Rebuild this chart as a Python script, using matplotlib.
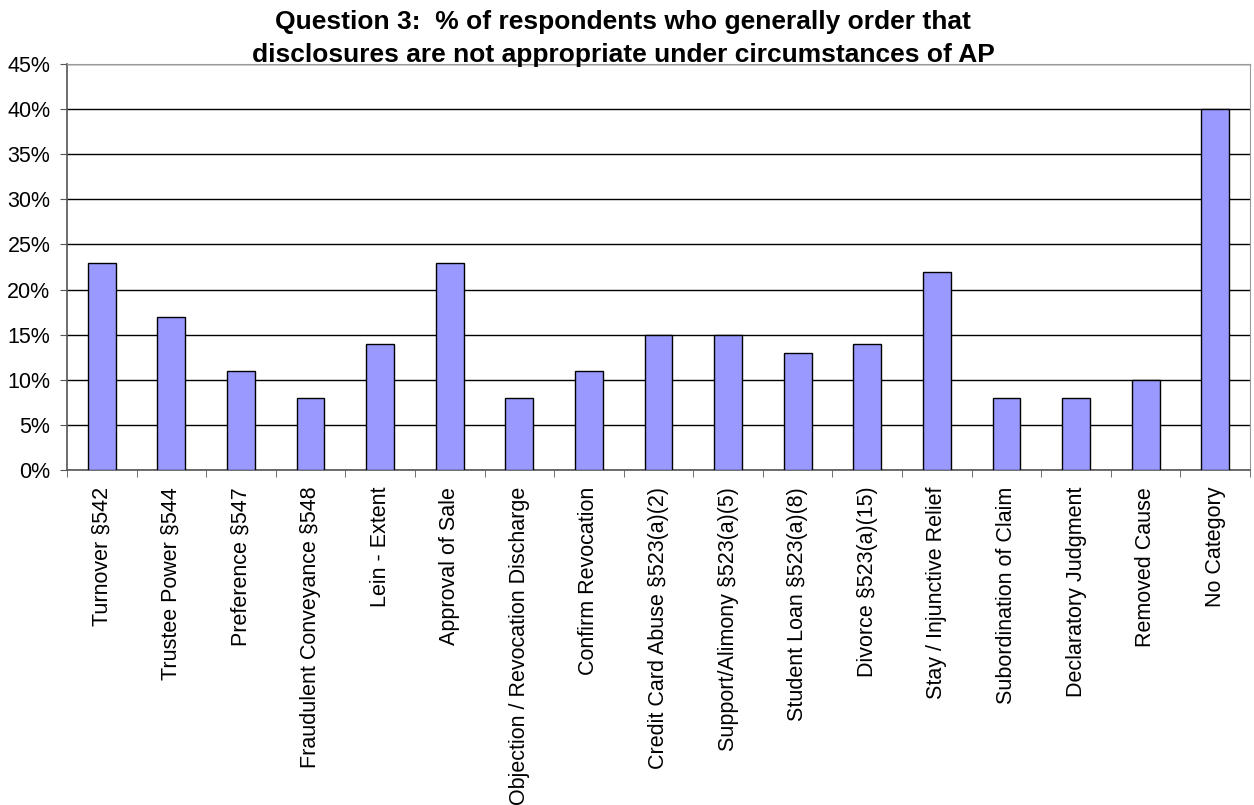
import numpy as np
import matplotlib.pyplot as plt

categories = [
    'Turnover §542', 'Trustee Power §544', 'Preference §547',
    'Fraudulent Conveyance §548', 'Lein - Extent', 'Approval of Sale',
    'Objection / Revocation Discharge', 'Confirm Revocation',
    'Credit Card Abuse §523(a)(2)', 'Support/Alimony §523(a)(5)',
    'Student Loan §523(a)(8)', 'Divorce §523(a)(15)',
    'Stay / Injunctive Relief', 'Subordination of Claim',
    'Declaratory Judgment', 'Removed Cause', 'No Category',
]
percent = [23, 17, 11, 8, 14, 23, 8, 11, 15, 15, 13, 14, 22, 8, 8, 10, 40]
yticks = [0, 5, 10, 15, 20, 25, 30, 35, 40, 45]

plt.rcParams['font.family'] = ['Liberation Sans', 'DejaVu Sans']

fig = plt.figure(figsize=(12.54, 8.05), dpi=100)
ax = fig.add_axes([0.0534, 0.416, 0.9434, 0.5045])

x = np.arange(len(categories))
ax.bar(x, percent, width=0.4, color='#9999FF', edgecolor='black',
       linewidth=1, zorder=3)

ax.set_xlim(-0.5, len(categories) - 0.5)
ax.set_ylim(0, 45)
ax.set_yticks(yticks)
ax.set_yticklabels([f'{v}%' for v in yticks], fontsize=15.5)
ax.yaxis.grid(True, color='black', linewidth=1, zorder=0)

# category labels sit at bar centres, tick marks go between categories
ax.set_xticks(x)
ax.set_xticklabels(categories, rotation=90, fontsize=15.5)
ax.tick_params(axis='x', length=0, pad=12)
ax.set_xticks(np.arange(len(categories) + 1) - 0.5, minor=True)
ax.tick_params(axis='x', which='minor', length=5, direction='out',
               color='#555555')
ax.tick_params(axis='y', length=5, direction='out', color='#555555', pad=7)

for side in ['top', 'right']:
    ax.spines[side].set_color('#999999')
for side in ['left', 'bottom']:
    ax.spines[side].set_color('#555555')
    ax.spines[side].set_linewidth(1.2)

fig.text(0.497, 0.9165,
         'Question 3:  % of respondents who generally order that\n'
         'disclosures are not appropriate under circumstances of AP',
         ha='center', va='bottom', fontsize=19, fontweight='bold',
         linespacing=1.5)

fig.savefig('out.png', dpi=100)
